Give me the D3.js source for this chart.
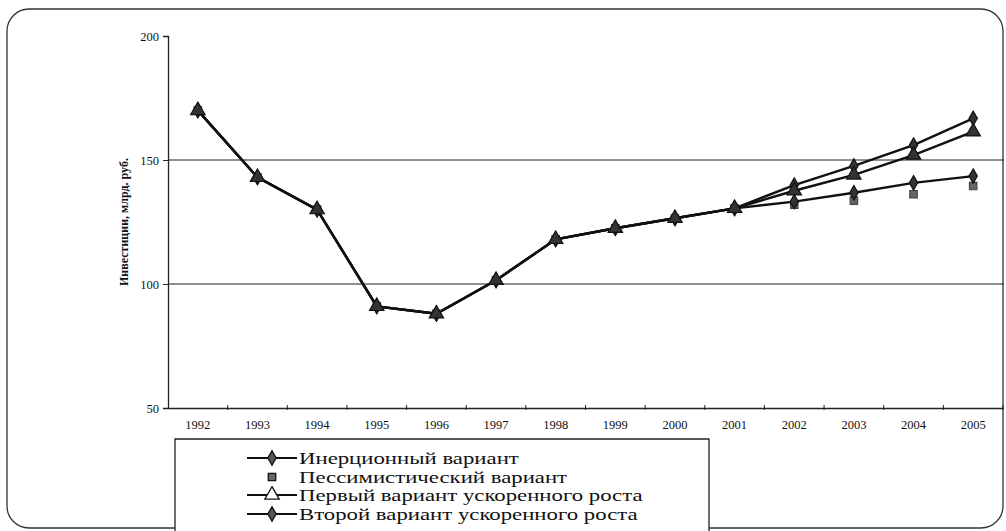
<!DOCTYPE html>
<html><head><meta charset="utf-8">
<script src="https://cdn.jsdelivr.net/npm/d3@7"></script>
<style>html,body{margin:0;padding:0;background:#fff;}svg{display:block;}</style>
</head><body>
<svg id="c" width="1006" height="531"></svg>
<script>
const years = [1992,1993,1994,1995,1996,1997,1998,1999,2000,2001,2002,2003,2004,2005];
const inertial    = [170,143,130,91,88,101.5,118,122.5,126.5,130.5,133.2,136.8,140.8,143.5];
const pessimistic = [170,143,130,91,88,101.5,118,122.5,126.5,130.5,132.0,133.6,136.2,139.5];
const firstAccel  = [170,143,130,91,88,101.5,118,122.5,126.5,130.5,137.6,144.0,152.0,161.4];
const secondAccel = [170,143,130,91,88,101.5,118,122.5,126.5,130.5,139.9,147.6,156.0,166.8];
const yTicks = [50,100,150,200];
const gridValues = [100,150];
const seriesNames = ["Инерционный вариант","Пессимистический вариант","Первый вариант ускоренного роста","Второй вариант ускоренного роста"];
const yLabel = "Инвестиции, млрд. руб.";

const svg = d3.select("#c");
const L = 168, R = 1003, T = 36, B = 408;
const x = d3.scaleBand().domain(years).range([L, R]);
const y = d3.scaleLinear().domain([50,200]).range([B, T]);
const cx = d => x(d) + x.bandwidth()/2;
const SERIF = "'Liberation Serif', 'Times New Roman', serif";

// outer rounded border
svg.append("rect").attr("x",7).attr("y",9).attr("width",996).attr("height",519)
  .attr("rx",22).attr("ry",22).attr("fill","none").attr("stroke","#333").attr("stroke-width",1.3);

// gridlines
svg.append("g").selectAll("line").data(gridValues).join("line")
  .attr("x1",L).attr("x2",R+1).attr("y1",d=>y(d)).attr("y2",d=>y(d))
  .attr("stroke","#222").attr("stroke-width",1);

// y axis
const ya = svg.append("g").attr("transform",`translate(${L},0)`)
  .call(d3.axisLeft(y).tickValues(yTicks).tickSize(5).tickPadding(4).tickFormat(d3.format("d")));
ya.selectAll("text").attr("font-family",SERIF).attr("font-size",12.5).attr("fill","#111");
ya.selectAll("line,path").attr("stroke","#222");
ya.select("path").attr("stroke-width",1.3);

// x axis
const xa = svg.append("g").attr("transform",`translate(0,${B})`)
  .call(d3.axisBottom(x).tickSize(0).tickPadding(12));
xa.selectAll("text").attr("font-family",SERIF).attr("font-size",12.5).attr("fill","#111");
xa.select("path").attr("stroke","#222").attr("stroke-width",1.3);
// boundary ticks
svg.append("g").selectAll("line").data(years.slice(1).concat([null])).join("line")
  .attr("x1",d=> d===null ? R : x(d)).attr("x2",d=> d===null ? R : x(d))
  .attr("y1",B-3).attr("y2",B+2).attr("stroke","#222").attr("stroke-width",1);

// y label
svg.append("text").attr("transform","translate(128,222) rotate(-90)")
  .attr("text-anchor","middle").attr("font-family",SERIF).attr("font-weight","bold")
  .attr("font-size",12).attr("fill","#111").text(yLabel);

const line = d3.line().x((d,i)=>cx(years[i])).y(d=>y(d));
const lineSeries = [inertial, firstAccel, secondAccel];
svg.append("g").selectAll("path").data(lineSeries).join("path")
  .attr("d",line).attr("fill","none").attr("stroke","#111").attr("stroke-width",2.4);

const diamond = d3.symbol().type(d3.symbolDiamond).size(60);
const tri = d3.symbol().type(d3.symbolTriangle).size(90);
const sq = d3.symbol().type(d3.symbolSquare).size(55);

function markers(data, sym, fill, stroke){
  svg.append("g").selectAll("path").data(data).join("path")
    .attr("transform",(d,i)=>`translate(${cx(years[i])},${y(d)})`)
    .attr("d",sym).attr("fill",fill).attr("stroke",stroke).attr("stroke-width",1.2);
}
markers(pessimistic, sq, "#666", "#444");
markers(secondAccel, diamond, "#333", "#111");
markers(inertial, diamond, "#333", "#111");
markers(firstAccel, tri, "#333", "#111");

// legend
const lg = svg.append("g");
lg.append("path").attr("d",`M175,535 V439 H709 V535`).attr("fill","#fff").attr("stroke","#222").attr("stroke-width",1.3);
const rowY = [458,477,495,514];
const legendSym = [diamond, sq, tri, diamond];
const legendFill = ["#555","#666","#fff","#555"];
const texts = [];
seriesNames.forEach((name,i)=>{
  if(i!==1) lg.append("line").attr("x1",247).attr("x2",297).attr("y1",rowY[i]).attr("y2",rowY[i])
      .attr("stroke","#111").attr("stroke-width",2);
  lg.append("path").attr("transform",`translate(272,${rowY[i]})`).attr("d",legendSym[i])
    .attr("fill",legendFill[i]).attr("stroke","#111").attr("stroke-width",1.3);
  texts.push(lg.append("text").attr("font-family",SERIF)
    .attr("font-size",16.5).attr("fill","#111").text(name));
});
// the printed legend type is horizontally wide: stretch to match
const w0 = texts[0].node().getComputedTextLength();
const w2 = texts[2].node().getComputedTextLength();
const sx = (228 + 336) / (w0 + w2);
texts.forEach((t,i)=> t.attr("transform",`translate(299,${rowY[i]+6}) scale(${sx},1)`));
</script>
</body></html>
